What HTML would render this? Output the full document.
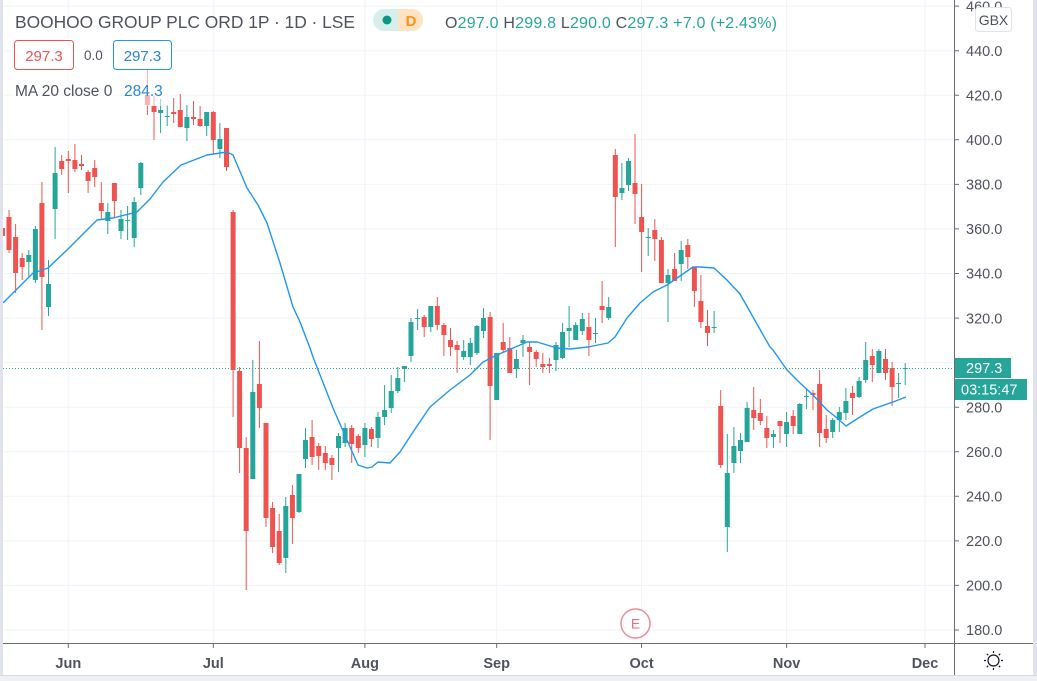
<!DOCTYPE html>
<html><head><meta charset="utf-8"><style>
html,body{margin:0;padding:0;background:#fff;width:1037px;height:681px;overflow:hidden}
svg{display:block}
text{font-family:"Liberation Sans",sans-serif}
</style></head><body>
<svg width="1037" height="681" viewBox="0 0 1037 681" xmlns="http://www.w3.org/2000/svg">
<rect x="0" y="0" width="1037" height="681" fill="#fff"/>
<defs><clipPath id="pane"><rect x="3" y="0" width="951.5" height="643"/></clipPath></defs>
<!-- grid -->
<g stroke="#f0f3fa" stroke-width="1">
<path d="M3,6.1H954M3,50.7H954M3,95.3H954M3,139.8H954M3,184.4H954M3,228.9H954M3,273.5H954M3,318.1H954M3,362.6H954M3,407.2H954M3,451.7H954M3,496.3H954M3,540.9H954M3,585.4H954M3,630H954"/>
<path d="M68.3,0V643M213.3,0V643M364.9,0V643M496.7,0V643M641.6,0V643M786.6,0V643M925,0V643"/>
</g>
<g clip-path="url(#pane)">
<!-- red wicks -->
<path fill="none" stroke="#ef5350" stroke-width="1" d="M2.4,225V240M9,210V253M15.6,224V293M22.2,253V280M41.9,182V330M61.7,155V175M68.3,151V193M74.9,144V172M81.5,155V170M88.1,170V193M94.7,160V187M101.3,182V220M114.4,183V218M147.4,55V115M154,96V140M173.7,98V123M180.3,94V127M193.5,101V125M200.1,106V127M213.3,111V154M226.5,128V171M233.1,210V417M239.6,367V473M246.2,437V590M259.4,341V428M266,423V527M272.6,502V553M279.2,514V565M292.4,485V544M312.1,420V465M318.7,443V470M325.3,446V470M331.9,455V480M351.7,425V463M358.3,434V453M371.4,427V447M424.2,315V337M437.3,297V330M443.9,323V356M450.5,328V356M457.1,341V373M490.1,312V440M503.2,323V353M509.8,337V373M529.6,342V385M536.2,350V367M542.8,353V373M549.4,358V373M588.9,313V356M602.1,281V323M615.3,149V247M635,134V224M641.6,184V272M654.8,219V261M661.4,237V283M674.6,253V281M687.8,239V269M694.4,267V307M700.9,275V328M707.5,310V346M720.7,390V468M753.7,387V430M760.3,399V425M766.8,416V448M780,421V443M793.2,410V434M813,390V410M819.6,370V447M826.2,415V443M852.5,386V415M872.3,349V382M885.5,349V380M892.1,362V406"/>
<!-- red bodies -->
<path fill="#ef5350" d="M-0.1,228h5V236h-5zM6.5,217h5V250h-5zM13.1,237h5V273h-5zM19.7,258h5V267h-5zM39.4,203h5V277h-5zM59.2,161h5V169h-5zM65.8,159h5V161h-5zM72.4,160h5V169h-5zM79,164h5V166h-5zM85.6,172h5V181h-5zM92.2,168h5V177h-5zM98.8,203h5V211h-5zM111.9,183h5V201h-5zM144.9,95h5V105h-5zM151.5,106h5V112h-5zM171.2,112h5V114h-5zM177.8,110h5V127h-5zM191,117h5V119h-5zM197.6,119h5V126h-5zM210.8,112h5V140h-5zM224,128h5V167h-5zM230.6,212h5V370h-5zM237.1,371h5V448h-5zM243.7,448h5V531h-5zM256.9,384h5V408h-5zM263.5,423h5V518h-5zM270.1,508h5V547h-5zM276.7,531h5V563h-5zM289.9,495h5V518h-5zM309.6,437h5V457h-5zM316.2,446h5V456h-5zM322.8,453h5V463h-5zM329.4,458h5V465h-5zM349.2,428h5V444h-5zM355.8,436h5V448h-5zM368.9,429h5V439h-5zM421.7,317h5V327h-5zM434.8,306h5V325h-5zM441.4,325h5V335h-5zM448,340h5V347h-5zM454.6,345h5V350h-5zM487.6,317h5V386h-5zM500.7,342h5V350h-5zM507.3,348h5V373h-5zM527.1,347h5V352h-5zM533.7,352h5V359h-5zM540.3,364h5V367h-5zM546.9,364h5V366h-5zM586.4,327h5V340h-5zM599.6,306h5V310h-5zM612.8,155h5V197h-5zM632.5,183h5V194h-5zM639.1,217h5V232h-5zM652.3,230h5V239h-5zM658.9,240h5V283h-5zM672.1,269h5V281h-5zM685.3,245h5V257h-5zM691.9,267h5V291h-5zM698.4,301h5V322h-5zM705,326h5V333h-5zM718.2,406h5V465h-5zM751.2,410h5V418h-5zM757.8,413h5V421h-5zM764.3,428h5V438h-5zM777.5,421h5V426h-5zM790.7,416h5V426h-5zM810.5,393h5V395h-5zM817.1,384h5V433h-5zM823.7,429h5V438h-5zM850,393h5V398h-5zM869.8,356h5V365h-5zM883,359h5V373h-5zM889.6,368h5V387h-5z"/>
<!-- teal wicks -->
<path fill="none" stroke="#26a69a" stroke-width="1" d="M28.8,250V277M35.4,226V283M48.5,260V316M55.1,147V239M107.8,203V234M121,210V239M127.6,206V240M134.2,197V247M140.8,162V195M160.6,99V133M167.2,105V126M186.9,105V141M206.7,112V136M219.9,123V158M252.8,360V479M285.8,497V573M299,474V513M305.5,428V468M338.5,433V472M345.1,423V447M364.9,423V457M378,412V448M384.6,385V425M391.2,375V413M397.8,367V393M404.4,366V382M411,318V362M417.6,309V330M430.8,306V332M463.7,340V360M470.3,338V365M476.9,325V355M483.5,308V338M496.7,353V400M516.4,350V378M523,335V357M556,342V371M562.6,323V359M569.1,306V347M575.7,322V340M582.3,313V335M595.5,318V343M608.7,297V320M621.9,163V200M628.5,158V191M648.2,228V256M668,269V322M681.2,241V281M714.1,311V333M727.3,434V552M733.9,427V473M740.5,433V463M747.1,402V442M773.4,430V448M786.6,412V447M799.8,403V434M806.4,389V409M832.7,418V438M839.3,407V432M845.9,388V420M859.1,377V398M865.7,342V383M878.9,349V373M898.6,373V398M905.2,363V385"/>
<!-- teal bodies -->
<path fill="#26a69a" d="M26.3,255h5V262h-5zM32.9,229h5V280h-5zM46,284h5V307h-5zM52.6,173h5V209h-5zM105.3,212h5V221h-5zM118.5,219h5V231h-5zM125.1,220h5V221h-5zM131.7,202h5V238h-5zM138.3,163h5V188h-5zM158.1,110h5V113h-5zM164.7,116h5V117h-5zM184.4,117h5V128h-5zM204.2,112h5V126h-5zM217.4,139h5V149h-5zM250.3,392h5V479h-5zM283.3,506h5V558h-5zM296.5,474h5V512h-5zM303,440h5V459h-5zM336,436h5V448h-5zM342.6,428h5V443h-5zM362.4,428h5V445h-5zM375.5,417h5V438h-5zM382.1,410h5V417h-5zM388.7,391h5V408h-5zM395.3,378h5V391h-5zM401.9,366h5V369h-5zM408.5,322h5V356h-5zM415.1,318h5V319h-5zM428.3,306h5V327h-5zM461.2,351h5V357h-5zM467.8,343h5V357h-5zM474.4,326h5V353h-5zM481,318h5V331h-5zM494.2,353h5V400h-5zM513.9,359h5V369h-5zM520.5,340h5V343h-5zM553.5,345h5V360h-5zM560.1,332h5V358h-5zM566.6,328h5V331h-5zM573.2,325h5V340h-5zM579.8,319h5V331h-5zM593,333h5V334h-5zM606.2,307h5V318h-5zM619.4,188h5V193h-5zM626,161h5V185h-5zM645.7,237h5V238h-5zM665.5,275h5V283h-5zM678.7,250h5V264h-5zM711.6,327h5V328h-5zM724.8,473h5V527h-5zM731.4,446h5V463h-5zM738,440h5V451h-5zM744.6,408h5V442h-5zM770.9,434h5V437h-5zM784.1,422h5V434h-5zM797.3,404h5V434h-5zM803.9,396h5V397h-5zM830.2,420h5V432h-5zM836.8,412h5V420h-5zM843.4,401h5V413h-5zM856.6,381h5V397h-5zM863.2,360h5V380h-5zM876.4,351h5V373h-5zM896.1,383h5V384h-5zM902.7,368h5V369h-5z"/>
<!-- MA line -->
<polyline fill="none" stroke="#2196f3" stroke-width="1.4" stroke-linejoin="round" points="0,304 4,302 33,273 48,268 67,250 97,220 113,218 137,212 150,199 163,182 181,165 207,155 227,152 233,155 247,188 258,205 267,223 280,263 293,307 300,322 310,348 313,357 333,408 347,440 358,465 367,468 372,467 378,462 390,463 400,452 413,432 430,407 450,390 470,375 483,362 497,355 527,342 537,342 557,348 570,349 588,347 608,343 615,337 627,318 640,303 653,292 667,285 680,276 693,267 700,267 714,268 727,280 740,294 753,317 770,347 773,350 787,370 800,383 813,395 827,410 837,418 846,426 860,417 873,409 893,402 906,397"/>
<!-- price line -->
<line x1="3" y1="368.5" x2="954" y2="368.5" stroke="#26a69a" stroke-width="1" stroke-dasharray="1 2"/>
</g>
<!-- legend overlay -->
<rect x="10" y="36" width="162" height="70" fill="#fff" fill-opacity="0.55"/>
<text x="15" y="28" font-size="17.4" fill="#50535e" textLength="340" lengthAdjust="spacing">BOOHOO GROUP PLC ORD 1P · 1D · LSE</text>
<path d="M384,9H398V31H384A11,11 0 0 1 384,9Z" fill="#d7efeb"/>
<path d="M398,9H412A11,11 0 0 1 412,31H398Z" fill="#fde3c1"/>
<circle cx="387" cy="20" r="4.5" fill="#089981"/>
<text x="411" y="26" font-size="15" font-weight="bold" fill="#f7931a" text-anchor="middle">D</text>
<text x="445" y="28" font-size="16" fill="#26a69a" textLength="332" lengthAdjust="spacing"><tspan fill="#50535e">O</tspan>297.0 <tspan fill="#50535e">H</tspan>299.8 <tspan fill="#50535e">L</tspan>290.0 <tspan fill="#50535e">C</tspan>297.3 +7.0 (+2.43%)</text>
<rect x="14.5" y="40.5" width="59" height="29" rx="3" fill="#fff" stroke="#ef5350"/>
<text x="44" y="61" font-size="15" fill="#ef5350" text-anchor="middle">297.3</text>
<text x="84" y="60" font-size="13.5" fill="#50535e">0.0</text>
<rect x="113.5" y="40.5" width="58" height="29" rx="3" fill="#fff" stroke="#2196f3"/>
<text x="142.5" y="61" font-size="15" fill="#2a84d8" text-anchor="middle">297.3</text>
<text x="15" y="96" font-size="15.5" fill="#50535e">MA 20 close 0</text>
<text x="124" y="96" font-size="15.5" fill="#2a84d8">284.3</text>
<!-- earnings marker -->
<circle cx="635.5" cy="623.5" r="14.5" fill="#fff" stroke="#f08a97" stroke-width="1.5"/>
<text x="635.5" y="628.5" font-size="14" fill="#ef6b7c" text-anchor="middle">E</text>
<!-- axes -->
<line x1="954.5" y1="0" x2="954.5" y2="675" stroke="#6a6d78" stroke-width="1"/>
<line x1="3" y1="643.5" x2="1033" y2="643.5" stroke="#6a6d78" stroke-width="1"/>
<path stroke="#6a6d78" stroke-width="1" d="M955,6.1h4M955,50.7h4M955,95.3h4M955,139.8h4M955,184.4h4M955,228.9h4M955,273.5h4M955,318.1h4M955,362.6h4M955,407.2h4M955,451.7h4M955,496.3h4M955,540.9h4M955,585.4h4M955,630h4M68.3,644v4M213.3,644v4M364.9,644v4M496.7,644v4M641.6,644v4M786.6,644v4M925,644v4"/>
<g font-size="14.5" fill="#50535e">
<text x="966" y="11.3">460.0</text>
<text x="966" y="55.9">440.0</text>
<text x="966" y="100.5">420.0</text>
<text x="966" y="145">400.0</text>
<text x="966" y="189.6">380.0</text>
<text x="966" y="234.1">360.0</text>
<text x="966" y="278.7">340.0</text>
<text x="966" y="323.3">320.0</text>
<text x="966" y="412.4">280.0</text>
<text x="966" y="456.9">260.0</text>
<text x="966" y="501.5">240.0</text>
<text x="966" y="546.1">220.0</text>
<text x="966" y="590.6">200.0</text>
<text x="966" y="635.2">180.0</text>
</g>
<rect x="975.5" y="7.5" width="36" height="24" rx="3" fill="#fff" stroke="#e0e3eb"/>
<text x="993.5" y="25" font-size="14" fill="#50535e" text-anchor="middle">GBX</text>
<rect x="955" y="358" width="56" height="20" fill="#26a69a"/>
<text x="966" y="373" font-size="14.5" fill="#fff">297.3</text>
<rect x="955" y="379" width="72" height="21" fill="#26a69a"/>
<text x="961" y="394.5" font-size="14.5" fill="#fff">03:15:47</text>
<g font-size="14.5" font-weight="bold" fill="#50535e" text-anchor="middle">
<text x="68.3" y="668">Jun</text>
<text x="213.3" y="668">Jul</text>
<text x="364.9" y="668">Aug</text>
<text x="496.7" y="668">Sep</text>
<text x="641.6" y="668">Oct</text>
<text x="786.6" y="668">Nov</text>
<text x="925" y="668">Dec</text>
</g>
<!-- settings icon -->
<g stroke="#131722" stroke-width="1.2" fill="none">
<circle cx="993.5" cy="660.5" r="5.5"/>
<path d="M993.5,653v-2M993.5,668v2M986,660.5h-2M1001,660.5h2M988.2,655.2l-1.4,-1.4M998.8,665.8l1.4,1.4M998.8,655.2l1.4,-1.4M988.2,665.8l-1.4,1.4"/>
</g>
<!-- borders -->
<rect x="0" y="0" width="3" height="681" fill="#e0e3eb"/>
<rect x="1033" y="0" width="4" height="681" fill="#e0e3eb"/>
<rect x="0" y="675" width="1037" height="6" fill="#eef0f5"/>
<line x1="0" y1="675.5" x2="1037" y2="675.5" stroke="#d6d9e0"/>
</svg>
</body></html>
